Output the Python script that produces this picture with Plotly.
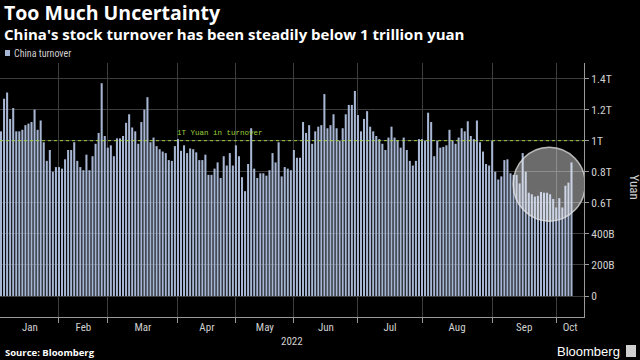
import plotly.graph_objects as go

# ---- data (trillion yuan, one value per trading day, Jan 2022 - mid Oct 2022) ----
months = ["Jan", "Feb", "Mar", "Apr", "May", "Jun", "Jul", "Aug", "Sep", "Oct"]
trading_days_per_month = [19, 16, 23, 19, 19, 21, 21, 23, 21, 6]

turnover_trillion = [
    # Jan
    1.06, 1.27, 1.31, 1.14, 1.21, 1.06, 1.06, 1.07, 1.10, 1.11, 1.12, 1.20, 1.07, 1.13, 0.99, 0.87, 0.94, 0.80, 0.83,
    # Feb
    0.83, 0.82, 0.88, 0.94, 0.94, 0.99, 0.87, 0.83, 0.81, 0.91, 0.81, 0.90, 0.98, 1.05, 1.37, 1.03,
    # Mar
    0.955, 0.97, 0.90, 1.015, 1.015, 1.03, 1.115, 1.17, 1.085, 1.06, 0.98, 1.12, 1.20, 1.28, 0.99, 1.02,
    0.965, 0.945, 0.93, 0.92, 0.875, 0.87, 0.965,
    # Apr
    1.01, 0.935, 0.97, 0.92, 0.95, 0.945, 0.925, 0.875, 0.875, 0.91, 0.78, 0.78, 0.82, 0.86, 0.76, 0.90,
    0.84, 0.92, 0.84,
    # May
    0.97, 0.90, 0.765, 0.675, 0.85, 1.08, 0.82, 0.76, 0.79, 0.79, 0.775, 0.81, 0.92, 0.86, 0.99, 0.77,
    0.83, 0.82, 0.81,
    # Jun
    0.94, 0.89, 0.89, 1.12, 1.05, 1.10, 0.98, 1.06, 1.09, 1.10, 1.30, 1.08, 1.10, 1.17, 1.08, 1.00,
    1.08, 1.17, 1.23, 1.23, 1.32,
    # Jul
    1.165, 1.06, 1.14, 1.19, 1.09, 1.06, 1.03, 1.01, 0.98, 0.94, 1.02, 1.09, 1.02, 1.00, 0.955, 1.02,
    0.94, 0.87, 0.84, 0.87, 1.01,
    # Aug
    1.01, 1.00, 1.18, 1.12, 0.90, 1.00, 0.955, 0.96, 0.97, 1.07, 1.00, 0.98, 1.02, 1.08, 1.06, 1.125,
    1.03, 1.01, 1.13, 0.99, 0.93, 0.85, 0.84,
    # Sep
    1.00, 0.80, 0.75, 0.77, 0.875, 0.88, 0.79, 0.78, 0.78, 0.725, 0.92, 0.80, 0.665, 0.655, 0.64, 0.645,
    0.67, 0.665, 0.665, 0.655, 0.625,
    # Oct
    0.57, 0.63, 0.57, 0.71, 0.73, 0.86,
]

y_tick_vals = [0, 0.2, 0.4, 0.6, 0.8, 1.0, 1.2, 1.4]
y_tick_text = ["0", "200B", "400B", "0.6T", "0.8T", "1T", "1.2T", "1.4T"]
threshold = 1.0
threshold_label = "1T Yuan in turnover"
series_name = "China turnover"

# ---- derived positions ----
x = list(range(len(turnover_trillion)))
x_min, x_max = -0.33, 191.1
starts = []
acc = 0
for n in trading_days_per_month:
    starts.append(acc)
    acc += n
boundaries = starts[1:]
ends = starts[1:] + [x_max]
label_pos = [(s + e) / 2 for s, e in zip(starts, ends)]

BAR = "#a7b6d3"
GRID = "#3d3d3d"
TXT = "#d0d0d0"
GREEN = "#9ccf3c"
NARROW = "Liberation Sans Narrow, Arial Narrow, Roboto Condensed, Liberation Sans, Arial, sans-serif"
BOLD = "Open Sans, Liberation Sans, sans-serif"

PLOT_L, PLOT_R = 0, 584
PLOT_TOP, PLOT_BOT = 63, 317


def py(p):
    return (PLOT_BOT - p) / (PLOT_BOT - PLOT_TOP)


def px(p):
    return (p - PLOT_L) / (PLOT_R - PLOT_L)


fig = go.Figure()
fig.add_trace(go.Bar(
    x=x, y=turnover_trillion, name=series_name,
    marker=dict(color=BAR, line=dict(width=0)),
    showlegend=False,
))

# threshold dotted line
fig.add_shape(type="line", xref="paper", yref="y", x0=0, x1=1, y0=threshold, y1=threshold,
              line=dict(color=GREEN, width=1, dash="dot"), layer="above")
fig.add_annotation(x=57, y=threshold, xref="x", yref="y", text=threshold_label,
                   showarrow=False, xanchor="left", yanchor="bottom", yshift=2,
                   font=dict(family="Liberation Mono, DejaVu Sans Mono, monospace", size=7.5, color=GREEN))

# highlight circle around the latest low readings
cx, cy = 179.7, 0.72
rx, ry = 11.8, 0.238
fig.add_shape(type="circle", xref="x", yref="y", x0=cx - rx, x1=cx + rx, y0=cy - ry, y1=cy + ry,
              fillcolor="rgba(255,255,255,0.42)", line=dict(color="rgba(230,230,230,0.75)", width=1.5),
              layer="above")

# legend (swatch + label)
fig.add_shape(type="rect", xref="paper", yref="paper", x0=px(5), x1=px(10), y0=py(56), y1=py(50),
              fillcolor=BAR, line=dict(width=0))
fig.add_annotation(x=px(12), y=py(53), xref="paper", yref="paper", text=series_name,
                   showarrow=False, xanchor="left", yanchor="middle",
                   font=dict(family=NARROW, size=10, color=TXT))

# titles
fig.add_annotation(x=px(2), y=py(13), xref="paper", yref="paper", text="<b>Too Much Uncertainty</b>",
                   showarrow=False, xanchor="left", yanchor="middle",
                   font=dict(family=BOLD, size=19.5, color="white"))
fig.add_annotation(x=px(2), y=py(34), xref="paper", yref="paper",
                   text="<b>China's stock turnover has been steadily below 1 trillion yuan</b>",
                   showarrow=False, xanchor="left", yanchor="middle",
                   font=dict(family=BOLD, size=15, color="white"))
# axis title (rotated clockwise)
fig.add_annotation(x=1, y=py(187), xref="paper", yref="paper", text="Yuan", textangle=90,
                   showarrow=False, xanchor="left", yanchor="middle", xshift=41,
                   font=dict(family=NARROW, size=13, color=TXT))
# year
fig.add_annotation(x=0.5, y=py(341), xref="paper", yref="paper", text="2022",
                   showarrow=False, xanchor="center", yanchor="middle",
                   font=dict(family=NARROW, size=11, color=TXT))
# source + logo
fig.add_annotation(x=px(3), y=py(352), xref="paper", yref="paper", text="<b>Source: Bloomberg</b>",
                   showarrow=False, xanchor="left", yanchor="middle",
                   font=dict(family=BOLD, size=9.5, color="white"))
fig.add_annotation(x=px(622), y=py(351), xref="paper", yref="paper", text="Bloomberg",
                   showarrow=False, xanchor="right", yanchor="middle",
                   font=dict(family="Liberation Sans, Arial, sans-serif", size=13, color="white"))
fig.add_shape(type="rect", xref="paper", yref="paper", x0=px(626), x1=px(636),
              y0=py(357), y1=py(345), fillcolor="#cfcfcf", line=dict(width=0))

fig.update_layout(
    width=640, height=360,
    margin=dict(l=PLOT_L, r=640 - PLOT_R, t=PLOT_TOP, b=360 - PLOT_BOT, autoexpand=False),
    paper_bgcolor="black", plot_bgcolor="black",
    bargap=0.33,
    showlegend=False,
    xaxis=dict(
        range=[x_min, x_max], tickmode="array", tickvals=label_pos, ticktext=months,
        showgrid=False, ticks="", zeroline=False, automargin=False,
        showline=True, linecolor="#9a9a9a", linewidth=1,
        tickfont=dict(family=NARROW, size=11, color=TXT),
        minor=dict(tickmode="array", tickvals=boundaries, showgrid=True, gridcolor=GRID, gridwidth=1,
                   ticks="outside", ticklen=5, tickcolor="#9a9a9a"),
    ),
    yaxis=dict(
        side="right", range=[-0.135, 1.5], tickmode="array", tickvals=y_tick_vals, ticktext=y_tick_text,
        showgrid=True, gridcolor=GRID, gridwidth=1, zeroline=False, automargin=False,
        showline=True, linecolor="#9a9a9a", linewidth=1,
        ticks="outside", ticklen=4, tickcolor="#9a9a9a",
        tickfont=dict(family=NARROW, size=11.5, color=TXT),
    ),
)

fig.write_html(
    "out.html",
    config={"displayModeBar": False},
    post_script="document.body.style.margin='0px';document.body.style.background='black';"
                "document.documentElement.style.overflow='hidden';",
)
